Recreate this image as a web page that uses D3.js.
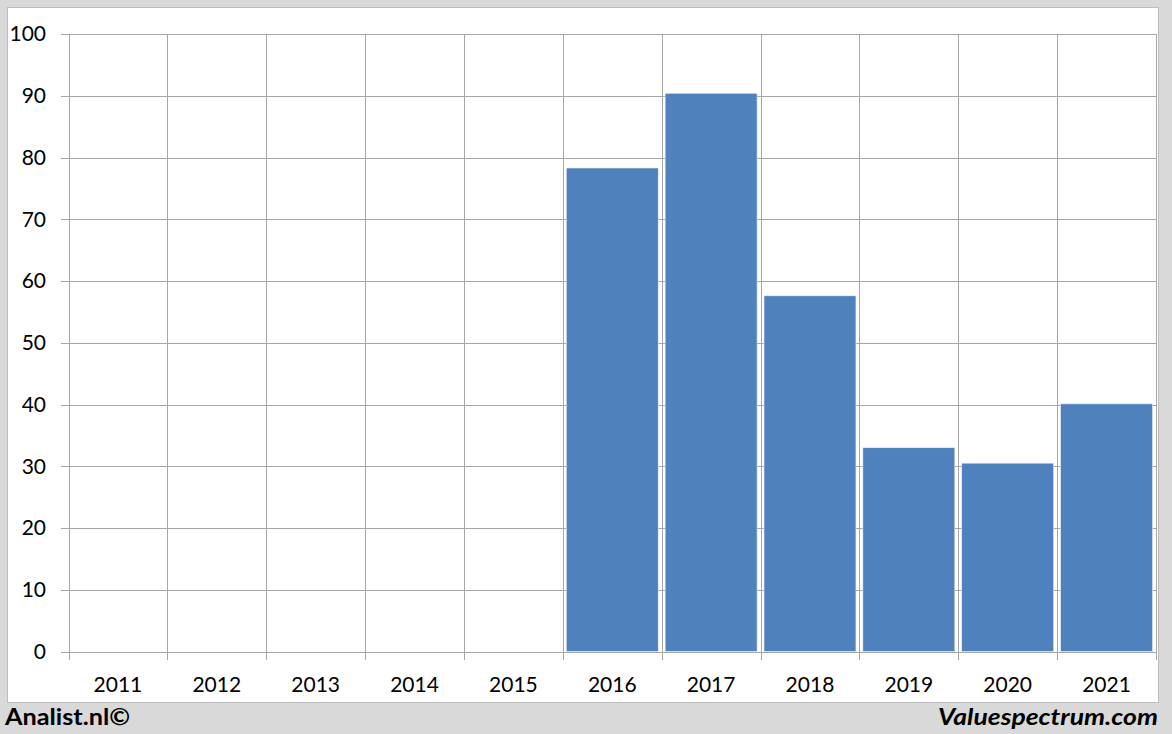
<!DOCTYPE html>
<html><head><meta charset="utf-8">
<script src="https://cdn.jsdelivr.net/npm/d3@7"></script>
<style>html,body{margin:0;padding:0;background:#d9d9d9;}svg{display:block;}</style>
</head><body>
<svg id="c" width="1172" height="734"></svg>
<script>
const categories = ["2011","2012","2013","2014","2015","2016","2017","2018","2019","2020","2021"];
const values = [null,null,null,null,null,78.3,90.4,57.6,33.0,30.5,40.1];
const yTicks = [0,10,20,30,40,50,60,70,80,90,100];

const svg = d3.select("#c");
const font = "Lato, 'Open Sans', sans-serif";
svg.append("rect").attr("x",0).attr("y",0).attr("width",1172).attr("height",734).attr("fill","#d9d9d9");
svg.append("rect").attr("x",7.5).attr("y",7.5).attr("width",1151).attr("height",695)
  .attr("fill","#fff").attr("stroke","#bdbdbd").attr("stroke-width",1);

const L=68.5, R=1156, T=34, B=651.5;
const x = d3.scaleBand().domain(categories).range([L,R]).paddingInner(0.07).paddingOuter(0.035);
const xe = d3.scaleBand().domain(categories).range([L,R]);
const y = d3.scaleLinear().domain([0,100]).range([B,T]);

// horizontal grid
svg.append("g").selectAll("line").data(yTicks).join("line")
  .attr("x1",61).attr("x2",R).attr("y1",d=>Math.round(y(d))+0.5).attr("y2",d=>Math.round(y(d))+0.5)
  .attr("stroke","#a6a6a6").attr("stroke-width",1);
// vertical grid
const edges = categories.map(c=>xe(c)).concat([R]);
svg.append("g").selectAll("line").data(edges).join("line")
  .attr("x1",d=>Math.round(d)+0.5).attr("x2",d=>Math.round(d)+0.5).attr("y1",T).attr("y2",660)
  .attr("stroke","#a6a6a6").attr("stroke-width",1);

// bars
svg.append("g").selectAll("rect").data(categories.map((c,i)=>({c,v:values[i]})).filter(d=>d.v!=null)).join("rect")
  .attr("x",d=>x(d.c)).attr("width",x.bandwidth())
  .attr("y",d=>y(d.v)).attr("height",d=>B-y(d.v))
  .attr("fill","#4f81bd").attr("stroke","#e8eef7").attr("stroke-width",0.6);

// y labels
svg.append("g").selectAll("text").data(yTicks).join("text")
  .attr("x",46).attr("y",d=>y(d)).attr("dy","0.35em").attr("text-anchor","end")
  .attr("font-family",font).attr("font-size",21).attr("fill","#000").text(d=>d);
// x labels
svg.append("g").selectAll("text").data(categories).join("text")
  .attr("x",d=>xe(d)+xe.bandwidth()/2).attr("y",692).attr("text-anchor","middle")
  .attr("font-family",font).attr("font-size",21).attr("fill","#000").text(d=>d);

svg.append("text").attr("x",5).attr("y",725).attr("font-family",font).attr("font-weight","bold")
  .attr("font-size",23).attr("fill","#000").attr("textLength",125).attr("lengthAdjust","spacingAndGlyphs").text("Analist.nl©");
svg.append("text").attr("x",1158).attr("y",725).attr("text-anchor","end").attr("font-family",font)
  .attr("font-weight","bold").attr("font-style","italic").attr("font-size",23).attr("fill","#000")
  .attr("textLength",220).attr("lengthAdjust","spacingAndGlyphs").text("Valuespectrum.com");
</script>
</body></html>
